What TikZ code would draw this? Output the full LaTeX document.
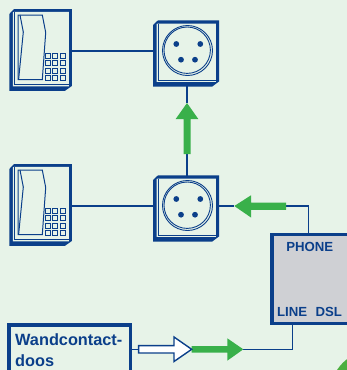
\documentclass[tikz,border=0pt]{standalone}
\usepackage{fontspec}
\setmainfont{Liberation Sans}
\definecolor{bg}{HTML}{E7F3E8}
\definecolor{navy}{HTML}{0B3F8A}
\definecolor{grn}{HTML}{39B04A}
\definecolor{arcgrn}{HTML}{4CAF3F}
\definecolor{boxgrey}{HTML}{CFD0D4}
\tikzset{
  wire/.style={draw=navy,line width=1.5pt},
  anchorbox/.style={inner sep=0pt,outer sep=0pt,minimum width=#1,minimum height=70pt},
  thin blue/.style={draw=navy,line width=1pt},
  key/.style={draw=navy,line width=0.9pt},
  green arrow/.style={fill=grn,draw=none},
  white arrow/.style={fill=white,draw=navy,line width=1.4pt,line join=miter},
  frame/.style={draw=navy,line width=3.4pt,inner sep=0pt,outer sep=0pt,anchor=north west},
  lbl/.style={text=navy,font=\bfseries\fontsize{13.2}{15}\selectfont,inner sep=0pt,anchor=base},
  phonepic/.pic={
    \fill[navy] (9.3,14) -- (14,9) -- (71.8,9) -- (71.8,86) -- (65,90.8) -- (9.3,90.8) -- cycle;
    \fill[bg] (12.8,12.5) -- (14,11.8) -- (68.8,11.8) -- (68.8,86.4) -- (12.8,86.4) -- cycle;
    \draw[thin blue] (14.5,11.8) -- (14.5,84.8) -- (68.8,84.8);
    \draw[thin blue,line join=miter] (18,15) -- (42.3,15) -- (45.7,32.5) -- (42.3,79.6) -- (18,79.6) -- cycle;
    \draw[thin blue] (20,15) -- (23.3,32) -- (18.6,79.6);
    \foreach \kx in {47.7,55.3,62.7}
      \foreach \ky in {55.7,63,70.7,78}
        \draw[key] (\kx-2.5,\ky-2.5) rectangle (\kx+2.5,\ky+2.5);
  },
  socketpic/.pic={
    \fill[navy] (153,25) -- (158,20.3) -- (219,20.3) -- (219,81.5) -- (212,86.7) -- (153,86.7) -- cycle;
    \fill[bg] (156.7,24) -- (158,23.5) -- (215.8,23.5) -- (215.8,81.8) -- (156.7,81.8) -- cycle;
    \draw[thin blue] (158.6,23.5) -- (158.6,80) -- (215.8,80);
    \draw[navy,line width=0.9pt] (187.5,50.5) circle (25);
    \draw[navy,line width=0.9pt] (187.2,50.2) circle (23.2);
    \fill[navy] (176.3,44) circle (2.9) (200.3,44) circle (2.9) (181,59.7) circle (2.9) (195,59.7) circle (2.9);
  }
}
\begin{document}
\begin{tikzpicture}[x=1pt,y=-1pt]
\useasboundingbox (0,0) rectangle (347,370);
\clip (0,0) rectangle (347,370);
\fill[bg] (0,0) rectangle (347,370);
\fill[arcgrn] (375,395) circle (45.5);

% invisible anchors for the devices
\node[anchorbox=62.5pt] (phoneA) at (40.5,51) {};
\node[anchorbox=62.5pt] (phoneB) at (40.5,206) {};
\node[anchorbox=64pt] (socketA) at (187,51) {};
\node[anchorbox=64pt] (socketB) at (187,206) {};

% boxes
\node[frame,fill=boxgrey,minimum width=76.6pt,minimum height=88.5pt] (gateway) at (272,234.7) {};
\node[frame,fill=bg,minimum width=121.4pt,minimum height=60pt] (wand) at (9,325) {};
\node[lbl] (phonetxt) at (309.8,251.8) {PHONE};
\node[lbl] (linetxt) at (292.2,316) {LINE};
\node[lbl] (dsltxt) at (328.8,316) {DSL};
\node[text=navy,font=\bfseries\fontsize{16.3}{21.7}\selectfont,inner sep=0pt,anchor=north west,align=left] (wandtxt) at (15,333) {Wandcontact-\\doos};

% end points of the arrows
\coordinate (upTip) at (187,103);
\coordinate (upTail) at (187,154);
\coordinate (leftTip) at (234.3,206);
\coordinate (leftTail) at (286,206);
\coordinate (whiteTail) at (138.3,349.3);
\coordinate (whiteTip) at (191.7,349.3);
\coordinate (rightTip) at (243.3,349.3);
\coordinate (gwTop) at (308.7,234);
\coordinate (gwBottom) at (292.7,324);

% connectors
\draw[wire] (phoneA.east) -- (socketA.west);
\draw[wire] (phoneB.east) -- (socketB.west);
\draw[wire] (socketA.center) -- (upTip);
\draw[wire] (upTail) -- (socketB.center);
\draw[wire] (socketB.center) -- (leftTip);
\draw[wire] (leftTail) -- (leftTail -| gwTop) -- (gwTop);
\draw[wire] (gwBottom) -- (gwBottom |- rightTip) -- (rightTip);
\draw[wire] (wand.east |- whiteTail) -- (whiteTail);

% devices
\pic at (0,0) {phonepic};
\pic at (0,155) {phonepic};
\pic at (0,0) {socketpic};
\pic at (0,155) {socketpic};

% arrows
\fill[green arrow] (upTip) -- (198.3,119) -- (190.6,119) -- (190.6,154) -- (183.6,154) -- (183.6,119) -- (175.7,119) -- cycle;
\fill[green arrow] (leftTip) -- (251,195.3) -- (251,202.5) -- (286,202.5) -- (286,209.8) -- (251,209.8) -- (251,217.5) -- cycle;
\fill[green arrow] (rightTip) -- (227.3,338.3) -- (227.3,346) -- (191.7,346) -- (191.7,352.7) -- (227.3,352.7) -- (227.3,360.7) -- cycle;
\draw[white arrow] (whiteTip) -- (174,337) -- (174,345.6) -- (138.6,345.6) -- (138.6,353) -- (174,353) -- (174,361.5) -- cycle;
\end{tikzpicture}
\end{document}
